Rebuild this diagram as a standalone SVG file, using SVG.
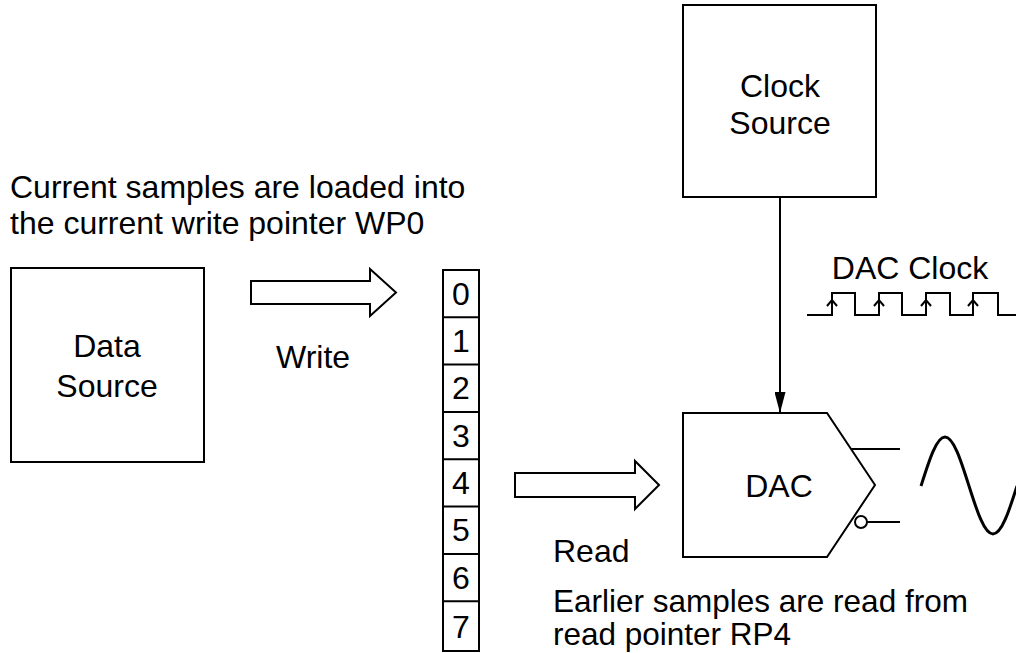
<svg xmlns="http://www.w3.org/2000/svg" width="1016" height="653" viewBox="0 0 1016 653">
<style>
text{font-family:"Liberation Sans",Arial,sans-serif;font-size:32px;fill:#000}
.c{text-anchor:middle}
.box{fill:#fff;stroke:#000;stroke-width:2}
.ln{fill:none;stroke:#000;stroke-width:2}
</style>
<defs>
<marker id="ah" markerWidth="21" markerHeight="11" refX="21" refY="5.5" orient="auto" markerUnits="userSpaceOnUse" viewBox="0 0 21 11">
<path d="M0,0 L21,5.5 L0,11 Z" fill="#000"/>
</marker>
</defs>
<rect width="1016" height="653" fill="#fff"/>

<text x="10" y="198">Current samples are loaded into</text>
<text x="10" y="234">the current write pointer WP0</text>

<g id="data-source">
<rect class="box" x="11" y="268" width="193" height="194"/>
<text class="c" x="107" y="357">Data</text>
<text class="c" x="107" y="397">Source</text>
</g>

<g id="clock-source">
<rect class="box" x="683" y="5" width="193" height="192"/>
<text class="c" x="780" y="97">Clock</text>
<text class="c" x="780" y="134">Source</text>
</g>

<g id="buffer">
<rect class="box" x="443" y="270" width="36" height="381"/>
<path class="ln" d="M443,317.3H479M443,364.6H479M443,412H479M443,459.3H479M443,506.6H479M443,554H479M443,601.3H479"/>
<text class="c" x="461" y="305">0</text>
<text class="c" x="461" y="352">1</text>
<text class="c" x="461" y="399">2</text>
<text class="c" x="461" y="447">3</text>
<text class="c" x="461" y="494">4</text>
<text class="c" x="461" y="541">5</text>
<text class="c" x="461" y="589">6</text>
<text class="c" x="461" y="638">7</text>
</g>

<g id="dac">
<path class="box" d="M683,413H827L875,485L827,557H683Z"/>
<text class="c" x="779" y="497">DAC</text>
<path class="ln" d="M851,449H900M867,522H900"/>
<circle cx="861" cy="522" r="6" fill="#fff" stroke="#000" stroke-width="2"/>
</g>

<g id="sine">
<path fill="none" stroke="#000" stroke-width="3" d="M921,486 C928.8,461.4 936.3,437 945,437 C953.7,437 961.2,461.4 969,486 C976.8,510.6 984.3,534 993,534 C1001.7,534 1009.2,510.6 1017,486"/>
</g>

<g id="dac-clock">
<text class="c" x="910" y="279">DAC Clock</text>
<path class="ln" d="M807,315H832V293H855V315H879V293H902V315H926V293H950V315H973V293H998V315H1016"/>
<path class="ln" d="M827,306L832,300L837,306M874,306L879,300L884,306M921,306L926,300L931,306M968,306L973,300L978,306"/>
</g>

<g id="connectors">
<path class="box" d="M251,281H370V269L396,292.5L370,316V304H251Z"/>
<text x="276" y="368">Write</text>
<path class="box" d="M515,473H635V461L659,485L635,509V497H515Z"/>
<text x="553" y="562">Read</text>
<line class="ln" x1="780" y1="197" x2="780" y2="413" marker-end="url(#ah)"/>
</g>

<text x="553" y="612" style="font-size:31.5px">Earlier samples are read from</text>
<text x="553" y="645" style="font-size:31.5px">read pointer RP4</text>
</svg>
